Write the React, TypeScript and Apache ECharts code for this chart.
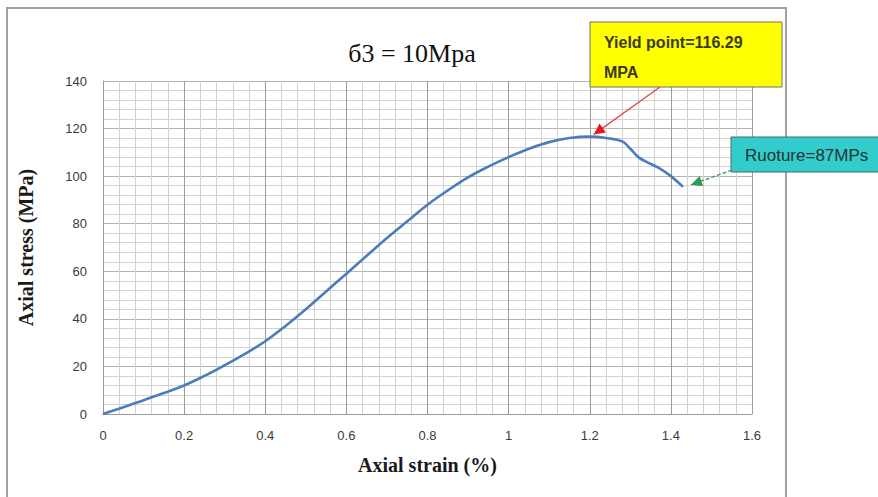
import React, { useEffect, useRef } from "react";
import * as echarts from "echarts";

const strain = [0, 0.05, 0.1, 0.15, 0.2, 0.25, 0.3, 0.35, 0.4, 0.45, 0.5, 0.55, 0.6, 0.65, 0.7, 0.75, 0.8, 0.85, 0.9, 0.95, 1.0, 1.05, 1.1, 1.15, 1.2, 1.24, 1.28, 1.3, 1.32, 1.34, 1.37, 1.4, 1.43];
const stress = [0, 2.8, 5.8, 8.8, 12, 16, 20.5, 25.3, 30.6, 37, 44, 51.5, 59, 66.5, 74, 81, 88, 94, 99.5, 104, 108, 111.5, 114.3, 116, 116.6, 116, 114.6, 111.5, 108, 106, 103.5, 100, 95.5];

const titleText = "б3 = 10Mpa";
const xName = "Axial strain (%)";
const yName = "Axial stress (MPa)";
const yieldLabel = ["Yield point=116.29", "MPA"];
const yieldPoint = [1.2, 116.29];
const ruptureLabel = "Ruoture=87MPs";
const rupturePoint = [1.43, 95.5];

function arrowHead(fx: number, fy: number, tx: number, ty: number, len: number, half: number) {
  const dx = tx - fx, dy = ty - fy;
  const d = Math.sqrt(dx * dx + dy * dy);
  const ux = dx / d, uy = dy / d;
  const bx = tx - ux * len, by = ty - uy * len;
  return [[tx, ty], [bx - uy * half, by + ux * half], [bx + uy * half, by - ux * half]];
}

export default function App() {
  const ref = useRef<HTMLDivElement>(null);
  useEffect(() => {
    if (!ref.current) return;
    const chart = echarts.init(ref.current, null, { renderer: "svg" });
    const data = strain.map((s, i) => [s, stress[i]]);
    const labelFont = "'Liberation Sans', Arial, sans-serif";
    const serif = "'Liberation Serif', 'Times New Roman', serif";
    chart.setOption({
      animation: false,
      backgroundColor: "#ffffff",
      grid: { left: 103, right: 126, top: 81, bottom: 83 },
      xAxis: {
        type: "value",
        min: 0,
        max: 1.6,
        interval: 0.2,
        name: xName,
        nameLocation: "middle",
        nameGap: 41,
        nameTextStyle: { fontFamily: serif, fontWeight: "bold", fontSize: 20, color: "#1a1a1a" },
        axisLine: { show: true, lineStyle: { color: "#9a9a9a", width: 1 } },
        axisTick: { show: false },
        axisLabel: { margin: 15, fontFamily: labelFont, fontSize: 13, color: "#3a3a3a" },
        splitLine: { show: true, lineStyle: { color: "#9c9c9c", width: 1 } },
        minorTick: { show: false, splitNumber: 5 },
        minorSplitLine: { show: true, lineStyle: { color: "#d2d2d2", width: 1 } },
      },
      yAxis: {
        type: "value",
        min: 0,
        max: 140,
        interval: 20,
        name: yName,
        nameLocation: "middle",
        nameRotate: 90,
        nameGap: 67,
        nameTextStyle: { fontFamily: serif, fontWeight: "bold", fontSize: 20, color: "#1a1a1a" },
        axisLine: { show: true, lineStyle: { color: "#9a9a9a", width: 1 } },
        axisTick: { show: false },
        axisLabel: { margin: 16, fontFamily: labelFont, fontSize: 13, color: "#3a3a3a" },
        splitLine: { show: true, lineStyle: { color: "#b4b4b4", width: 1 } },
        minorTick: { show: false, splitNumber: 5 },
        minorSplitLine: { show: true, lineStyle: { color: "#d2d2d2", width: 1 } },
      },
      series: [
        {
          type: "line",
          data,
          showSymbol: false,
          smooth: 0.4,
          lineStyle: { color: "#4A7EBB", width: 2.6 },
          z: 5,
        },
      ],
    });

    const yp = chart.convertToPixel({ gridIndex: 0 }, yieldPoint) as number[];
    const rp = chart.convertToPixel({ gridIndex: 0 }, rupturePoint) as number[];
    const yTip = [yp[0] + 4, yp[1] - 3];
    const yFrom = [660, 87];
    const rTip = [rp[0] + 8, rp[1] - 2];
    const rFrom = [732, 170];

    chart.setOption({
      graphic: [
        {
          type: "rect",
          shape: { x: 7, y: 8, width: 779, height: 500 },
          style: { fill: "none", stroke: "#a0a0a0", lineWidth: 2 },
          silent: true,
          z: 0,
        },
        {
          type: "text",
          x: 412,
          y: 53,
          style: {
            text: titleText,
            fontFamily: serif,
            fontSize: 26,
            fill: "#111",
            textAlign: "center",
            textVerticalAlign: "middle",
          },
          z: 10,
        },
        {
          type: "line",
          shape: { x1: yFrom[0], y1: yFrom[1], x2: yTip[0], y2: yTip[1] },
          style: { stroke: "#e0474c", lineWidth: 1.3 },
          z: 20,
        },
        {
          type: "polygon",
          shape: { points: arrowHead(yFrom[0], yFrom[1], yTip[0], yTip[1], 11, 5.5) },
          style: { fill: "#e8141e" },
          z: 21,
        },
        {
          type: "line",
          shape: { x1: rFrom[0], y1: rFrom[1], x2: rTip[0], y2: rTip[1] },
          style: { stroke: "#3a9a5e", lineWidth: 1.3, lineDash: [4, 2] },
          z: 20,
        },
        {
          type: "polygon",
          shape: { points: arrowHead(rFrom[0], rFrom[1], rTip[0], rTip[1], 11, 5.5) },
          style: { fill: "#2e9a5a" },
          z: 21,
        },
        {
          type: "rect",
          shape: { x: 590, y: 22, width: 192, height: 65 },
          style: { fill: "#ffff00", stroke: "#6f6f6f", lineWidth: 1 },
          z: 22,
        },
        {
          type: "text",
          x: 604,
          y: 42,
          style: {
            text: yieldLabel[0],
            fontFamily: labelFont,
            fontSize: 16,
            fontWeight: "bold",
            fill: "#3a3a22",
            textVerticalAlign: "middle",
          },
          z: 23,
        },
        {
          type: "text",
          x: 604,
          y: 72,
          style: {
            text: yieldLabel[1],
            fontFamily: labelFont,
            fontSize: 16,
            fontWeight: "bold",
            fill: "#3a3a22",
            textVerticalAlign: "middle",
          },
          z: 23,
        },
        {
          type: "rect",
          shape: { x: 731, y: 137, width: 160, height: 35 },
          style: { fill: "#33cccc", stroke: "#4a6a6a", lineWidth: 1 },
          z: 22,
        },
        {
          type: "text",
          x: 745,
          y: 155,
          style: {
            text: ruptureLabel,
            fontFamily: labelFont,
            fontSize: 17,
            fill: "#233333",
            textVerticalAlign: "middle",
          },
          z: 23,
        },
      ],
    });

    return () => chart.dispose();
  }, []);
  return (
    <div
      ref={ref}
      style={{ position: "fixed", left: 0, top: 0, width: 878, height: 497, background: "#fff" }}
    />
  );
}
